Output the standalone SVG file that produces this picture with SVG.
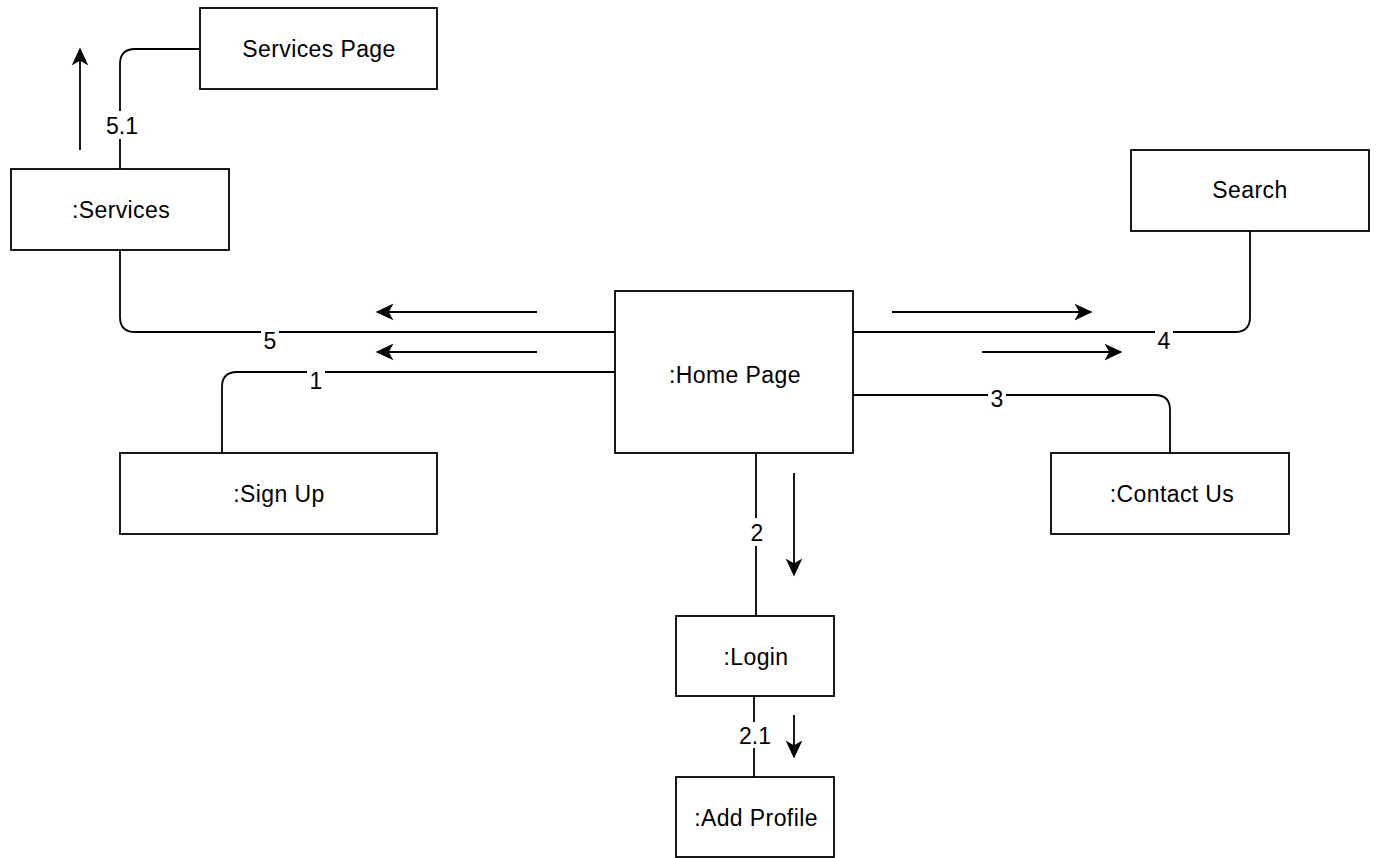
<svg xmlns="http://www.w3.org/2000/svg" width="1377" height="858" viewBox="0 0 1377 858">
<style>
.box{fill:#fff;stroke:#000;stroke-width:1.8}
.t{font-family:"Liberation Sans",Arial,sans-serif;font-size:23px;letter-spacing:0.4px;fill:#000;text-anchor:middle}
.c{fill:none;stroke:#000;stroke-width:1.8}
.lb{font-family:"Liberation Sans",Arial,sans-serif;font-size:23px;fill:#000;text-anchor:middle}
.bg{fill:#fff}
</style>
<defs>
<marker id="ah" markerUnits="userSpaceOnUse" markerWidth="18" markerHeight="18" refX="16" refY="9" orient="auto">
<path d="M1,2 L16,9 L1,16 L5,9 Z" fill="#000" stroke="#000" stroke-width="1.2"/>
</marker>
</defs>
<g id="connectors">
<path class="c" d="M120,169 V64 Q120,49 135,49 H200"/>
<path class="c" d="M120,250 V317 Q120,332 135,332 H615"/>
<path class="c" d="M615,372 H237 Q222,372 222,387 V453"/>
<path class="c" d="M853,332 H1235 Q1250,332 1250,317 V231"/>
<path class="c" d="M853,395 H1155 Q1170,395 1170,410 V453"/>
<path class="c" d="M756,453 V616"/>
<path class="c" d="M754,696 V777"/>
<line class="c" x1="80" y1="150" x2="80" y2="49" marker-end="url(#ah)"/>
<line class="c" x1="537" y1="312" x2="377" y2="312" marker-end="url(#ah)"/>
<line class="c" x1="537" y1="352" x2="377" y2="352" marker-end="url(#ah)"/>
<line class="c" x1="892" y1="312" x2="1091" y2="312" marker-end="url(#ah)"/>
<line class="c" x1="982" y1="352" x2="1121" y2="352" marker-end="url(#ah)"/>
<line class="c" x1="794" y1="473" x2="794" y2="575" marker-end="url(#ah)"/>
<line class="c" x1="794" y1="715" x2="794" y2="757" marker-end="url(#ah)"/>
<rect class="bg" x="105" y="111" width="35" height="28"/>
<text class="lb" x="122" y="134">5.1</text>
<rect class="bg" x="261" y="331" width="18" height="20"/>
<text class="lb" x="270" y="349">5</text>
<rect class="bg" x="307" y="371" width="18" height="19"/>
<text class="lb" x="316" y="389">1</text>
<rect class="bg" x="1155" y="331" width="18" height="19"/>
<text class="lb" x="1164" y="349">4</text>
<rect class="bg" x="988" y="389" width="18" height="19"/>
<text class="lb" x="997" y="407">3</text>
<rect class="bg" x="748" y="518" width="18" height="28"/>
<text class="lb" x="757" y="541">2</text>
<rect class="bg" x="737" y="722" width="36" height="26"/>
<text class="lb" x="755" y="744">2.1</text>
</g>
<g id="services-page"><rect class="box" x="200" y="8" width="237" height="81"/><text class="t" x="319" y="57">Services Page</text></g>
<g id="services"><rect class="box" x="11" y="169" width="218" height="81"/><text class="t" x="121" y="218">:Services</text></g>
<g id="search"><rect class="box" x="1131" y="150" width="238" height="81"/><text class="t" x="1250" y="198">Search</text></g>
<g id="home-page"><rect class="box" x="615" y="291" width="238" height="162"/><text class="t" x="735" y="383">:Home Page</text></g>
<g id="sign-up"><rect class="box" x="120" y="453" width="317" height="81"/><text class="t" x="279" y="502">:Sign Up</text></g>
<g id="contact-us"><rect class="box" x="1051" y="453" width="238" height="81"/><text class="t" x="1172" y="502">:Contact Us</text></g>
<g id="login"><rect class="box" x="676" y="616" width="158" height="80"/><text class="t" x="756" y="665">:Login</text></g>
<g id="add-profile"><rect class="box" x="676" y="777" width="158" height="80"/><text class="t" x="756" y="826">:Add Profile</text></g>
</svg>
